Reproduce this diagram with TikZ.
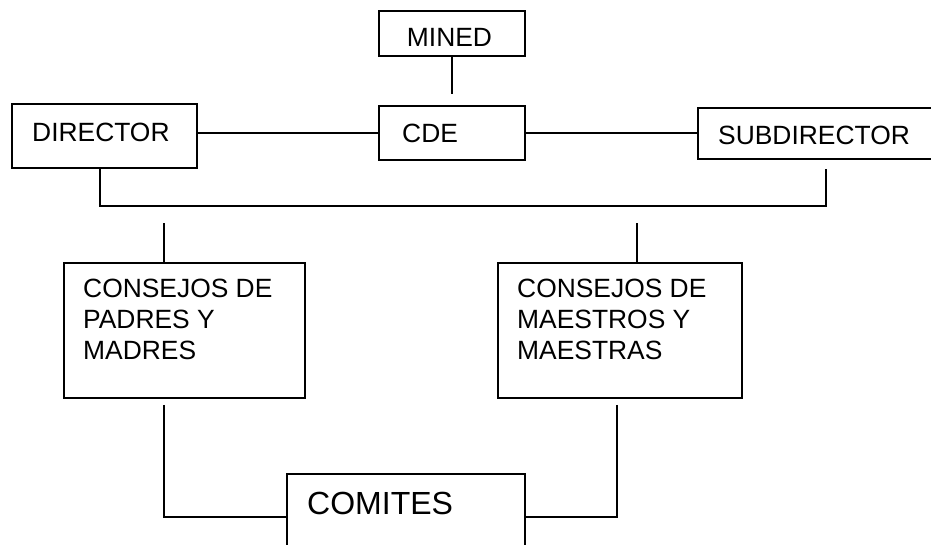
\documentclass[tikz,border=0pt]{standalone}
\usepackage{fontspec}
\setmainfont{Liberation Sans}
\begin{document}
\begin{tikzpicture}[x=1pt,y=-1pt,
  box/.style={draw, line width=1.8pt, rectangle, inner sep=0pt, anchor=north west},
  txt/.style={inner sep=0pt, font=\fontsize{26.4}{30.8}\selectfont},
  conn/.style={line width=1.5pt}]
\useasboundingbox (0,0) rectangle (931,544);
\clip (0,0) rectangle (931,544);
% boxes
\node[box, minimum width=146pt, minimum height=45pt] (mined) at (378,10) {};
\node[txt, anchor=base] (minedT) at (449.5,46.5) {MINED};
\node[box, minimum width=146pt, minimum height=54pt] (cde) at (378,105) {};
\node[txt, anchor=base west] (cdeT) at (402,142.5) {CDE};
\node[box, minimum width=185pt, minimum height=64pt] (dir) at (11,103) {};
\node[txt, anchor=base west] (dirT) at (32,141.5) {DIRECTOR};
\node[box, minimum width=250pt, minimum height=51pt] (sub) at (697,107) {};
\node[txt, anchor=base west] (subT) at (718,144.5) {SUBDIRECTOR};
\node[box, minimum width=241pt, minimum height=135pt] (padres) at (63,262) {};
\node[txt, anchor=north west, align=left] (padresT) at (83,279) {CONSEJOS DE\\PADRES Y\\MADRES};
\node[box, minimum width=244pt, minimum height=135pt] (maestros) at (497,262) {};
\node[txt, anchor=north west, align=left] (maestrosT) at (517,279) {CONSEJOS DE\\MAESTROS Y\\MAESTRAS};
\node[box, minimum width=238pt, minimum height=100pt] (comites) at (286,473) {};
\node[txt, font=\fontsize{32}{38}\selectfont, anchor=base west] (comitesT) at (307,514.5) {COMITES};
% connectors
\draw[conn] (mined.south) -- ([yshift=11pt]cde.north);
\draw[conn] (dir.east |- cde.west) -- (cde.west);
\draw[conn] (cde.east) -- (cde.east -| sub.west);
\coordinate (busL) at (100,206);
\coordinate (busR) at (826,206);
\coordinate (subDrop) at ([yshift=-9pt]sub.south);
\draw[conn] (busL |- dir.south) -- (busL) -- (busR) -- (busR |- subDrop);
\coordinate (stubL) at (164,223);
\coordinate (stubR) at (637,223);
\draw[conn] (stubL) -- (stubL |- padres.north);
\draw[conn] (stubR) -- (stubR |- maestros.north);
\coordinate (botL) at (164,517);
\coordinate (botR) at (617,517);
\coordinate (padDrop) at ([yshift=-6pt]padres.south);
\coordinate (maeDrop) at ([yshift=-6pt]maestros.south);
\draw[conn] (botL |- padDrop) -- (botL) -- (botL -| comites.west);
\draw[conn] (botR |- maeDrop) -- (botR) -- (botR -| comites.east);
\end{tikzpicture}
\end{document}
